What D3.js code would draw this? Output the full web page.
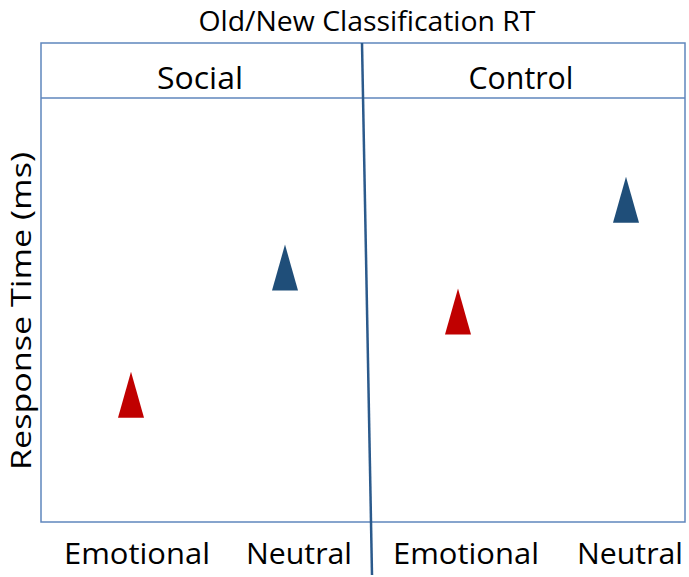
<!DOCTYPE html>
<html>
<head>
<meta charset="utf-8">
<script src="https://cdn.jsdelivr.net/npm/d3@7"></script>
<style>
  body { margin: 0; background: #fff; }
  text { font-family: "Open Sans", sans-serif; fill: #000; }
</style>
</head>
<body>
<svg width="689" height="577"></svg>
<script>
// panels and categories
const panels = ["Social", "Control"];
const conditions = ["Emotional", "Neutral"];
// response times (ms) (no axis ticks in the original)
const socialRT = [790, 880];
const controlRT = [849, 928];
const colors = { Emotional: "#c00000", Neutral: "#1f4e79" };

const svg = d3.select("svg");
const box = { left: 41, right: 685, top: 43, head: 98, bottom: 522 };
const divTop = 362, divBottom = 372;

let yScale = d3.scaleLinear()
    .domain([700, 1000])
    .range([box.bottom, box.head]);

// marker positions and label positions are a little apart in the original
let xScales = {
    Social: d3.scalePoint().domain(conditions).range([131, 285]),
    Control: d3.scalePoint().domain(conditions).range([458, 626])
};
let labScales = {
    Social: d3.scalePoint().domain(conditions).range([137, 299]),
    Control: d3.scalePoint().domain(conditions).range([466, 630])
};

const points = [];
conditions.forEach((c, i) => points.push({ panel: "Social", cond: c, rt: socialRT[i] }));
conditions.forEach((c, i) => points.push({ panel: "Control", cond: c, rt: controlRT[i] }));

// frame
const lineCol = "#5f86bd";
svg.append("rect")
    .attr("x", box.left).attr("y", box.top)
    .attr("width", box.right - box.left).attr("height", box.bottom - box.top)
    .attr("fill", "none").attr("stroke", lineCol).attr("stroke-width", 1.5);
svg.append("line")
    .attr("x1", box.left).attr("x2", box.right)
    .attr("y1", box.head).attr("y2", box.head)
    .attr("stroke", lineCol).attr("stroke-width", 1.5);
svg.append("line")
    .attr("x1", divTop).attr("y1", box.top)
    .attr("x2", divBottom).attr("y2", 575)
    .attr("stroke", "#2b5a8c").attr("stroke-width", 2.5);

// title
svg.append("text")
    .attr("x", 367).attr("y", 31)
    .attr("text-anchor", "middle")
    .attr("font-size", "28px")
    .attr("textLength", 337).attr("lengthAdjust", "spacingAndGlyphs")
    .text("Old/New Classification RT");

// panel headers
const headX = { Social: 200, Control: 521 };
const headW = { Social: 86, Control: 105 };
panels.forEach(p => {
    svg.append("text")
        .attr("x", headX[p]).attr("y", 89)
        .attr("text-anchor", "middle")
        .attr("font-size", "31px")
        .attr("textLength", headW[p]).attr("lengthAdjust", "spacingAndGlyphs")
        .text(p);
});

// category labels
const labW = { Emotional: 146, Neutral: 106 };
panels.forEach(p => {
    conditions.forEach(c => {
        svg.append("text")
            .attr("x", labScales[p](c)).attr("y", 564)
            .attr("text-anchor", "middle")
            .attr("font-size", "30px")
            .attr("textLength", labW[c]).attr("lengthAdjust", "spacingAndGlyphs")
            .text(c);
    });
});

// y label
svg.append("text")
    .attr("transform", "translate(31,311) rotate(-90)")
    .attr("text-anchor", "middle")
    .attr("font-size", "28px")
    .attr("textLength", 318).attr("lengthAdjust", "spacingAndGlyphs")
    .text("Response Time (ms)");

// triangles, tall and narrow like the original
const triW = 26, triH = 46;
svg.selectAll("path.tri")
    .data(points)
    .enter()
    .append("path")
    .attr("class", "tri")
    .attr("fill", d => colors[d.cond])
    .attr("d", d => {
        const x = xScales[d.panel](d.cond), y = yScale(d.rt);
        const p = d3.path();
        p.moveTo(x, y - triH / 2);
        p.lineTo(x + triW / 2, y + triH / 2);
        p.lineTo(x - triW / 2, y + triH / 2);
        p.closePath();
        return p.toString();
    });
</script>
</body>
</html>
